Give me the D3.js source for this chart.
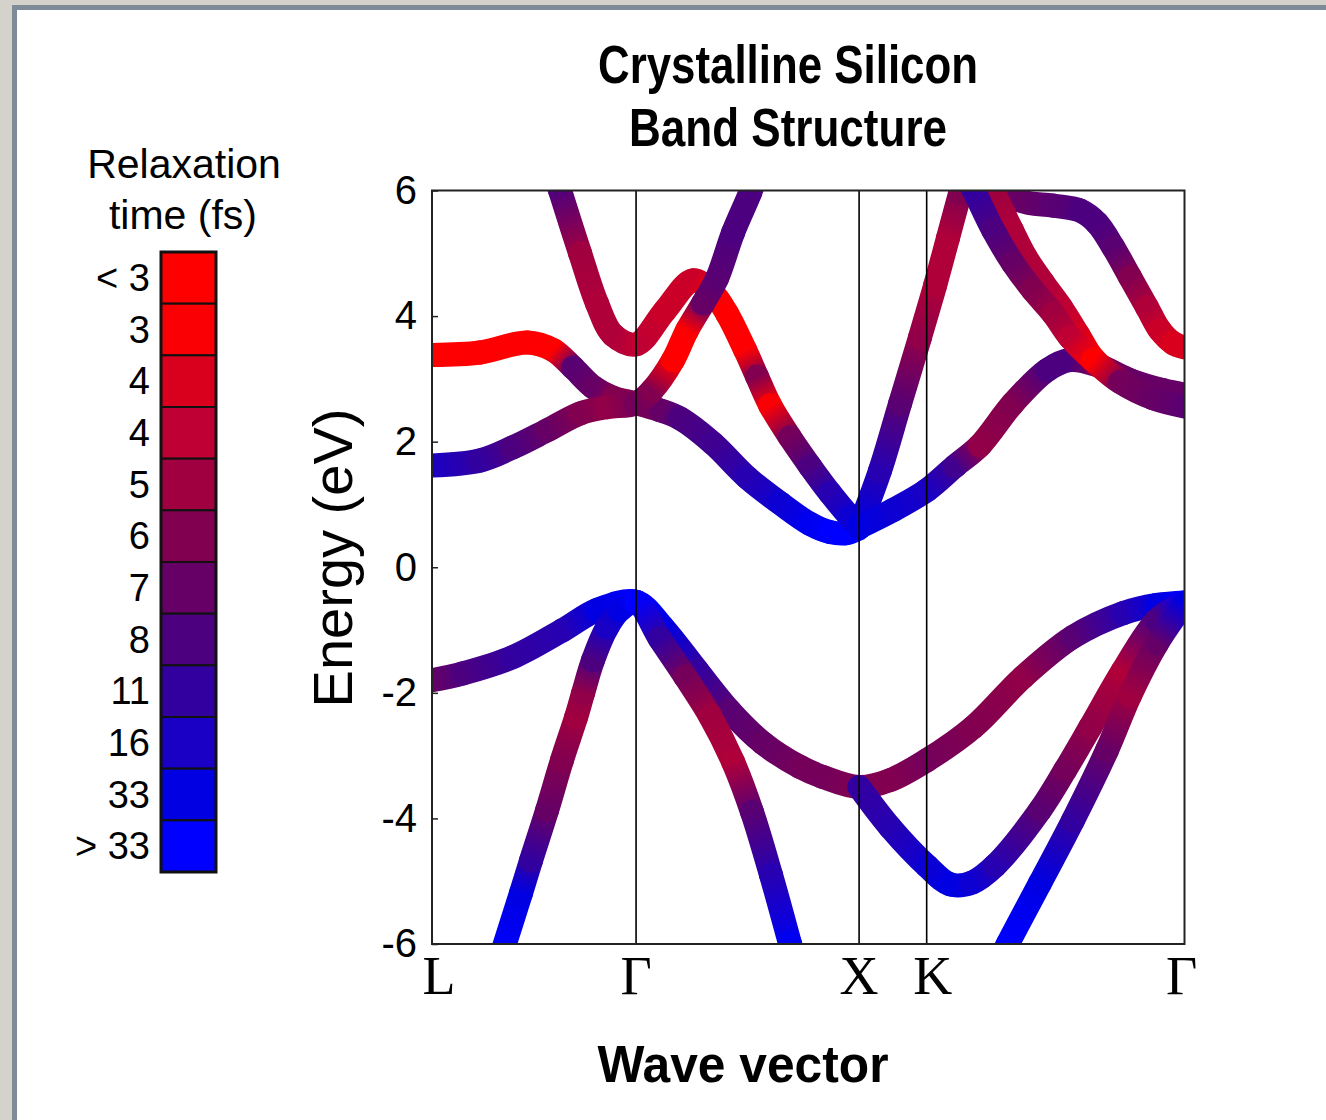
<!DOCTYPE html>
<html>
<meta charset="utf-8">
<head>
  <title>Crystalline Silicon Band Structure</title>
  <script src="https://d3js.org/d3.v7.min.js"></script>
  <style>
    body { margin: 0; background: #d5d2cc; }
    svg { display: block; }
  </style>
</head>
<body>
<div id="my_dataviz"></div>
<script>

// legend: relaxation time classes, short (red) to long (blue)
var legendLabels = ["< 3", "3", "4", "4", "5", "6", "7", "8", "11", "16", "33", "> 33"];
var legendColors = ["#ff0000", "#fa0004", "#d8001c", "#be0034", "#a0003f", "#820050",
                    "#660066", "#4c0080", "#3300a0", "#1a00c4", "#0000e2", "#0000ff"];

// high symmetry points along the path
var kLabels = ["L", "Γ", "X", "K", "Γ"];
var kTicks = [0, 0.915, 1.915, 2.218, 3.374];
var energyTicks = [-6, -4, -2, 0, 2, 4, 6];

// bands: [k, energy in eV, relaxation class (0 = "< 3" ... 11 = "> 33")]
var bandV1 = [[0,-1.80,6],[0.139,-1.69,7],[0.363,-1.43,8],[0.587,-1.00,8.5],[0.740,-0.68,10],[0.915,-0.55,11],
  [1.036,-0.96,10],[1.188,-1.64,8],[1.336,-2.29,6.5],[1.484,-2.80,6],[1.650,-3.18,5.5],[1.753,-3.34,5.5],
  [1.915,-3.50,5],[2.054,-3.39,5],[2.220,-3.07,5.5],[2.426,-2.55,5],[2.650,-1.75,4.5],[2.874,-1.11,6.5],
  [3.099,-0.73,8.5],[3.251,-0.60,10],[3.374,-0.56,11]];
var bandV2 = [[0.296,-6.34,11],[0.399,-5.19,10],[0.444,-4.67,8],[0.516,-3.87,6],[0.583,-3.07,5],[0.646,-2.39,4],
  [0.677,-2.01,4.5],[0.722,-1.48,7],[0.785,-0.96,9],[0.843,-0.68,10],[0.915,-0.55,11],[1.022,-1.14,8],
  [1.135,-1.74,5.5],[1.247,-2.37,4],[1.350,-3.10,3.5],[1.435,-3.90,6.5],[1.520,-4.90,8.5],[1.605,-5.99,10.5],
  [1.632,-6.34,11]];
var bandV3 = [[1.915,-3.50,8],[2.054,-4.14,8.5],[2.220,-4.76,9.5],[2.323,-5.05,10],[2.422,-5.02,9.5],[2.525,-4.75,8.5],
  [2.726,-3.87,6.5],[2.839,-3.23,5.5],[2.951,-2.55,4.5],[3.099,-1.64,3.5],[3.251,-0.84,7],[3.374,-0.56,11]];
var bandV4 = [[2.534,-6.34,11],[2.583,-5.99,11],[2.726,-5.03,10],[2.874,-4.03,8],[3.027,-2.91,6],[3.130,-2.04,4],
  [3.251,-1.21,6],[3.374,-0.57,10]];

var bandC1 = [[0,1.62,9],[0.215,1.70,8],[0.363,1.91,7],[0.516,2.18,6],[0.664,2.45,5],[0.785,2.55,4.5],[0.915,2.61,5.5],
  [0.987,2.82,5],[1.081,3.30,0],[1.143,3.77,0.5],[1.215,4.20,6],[1.278,4.60,6.5],[1.350,5.33,7],[1.426,5.96,7],[1.453,6.24,7]];
var bandC2 = [[0,3.38,0],[0.215,3.42,0.5],[0.426,3.58,0.5],[0.543,3.46,0],[0.632,3.18,6.5],[0.722,2.87,6],[0.812,2.70,5],
  [0.915,2.61,5],[1.022,2.50,6],[1.112,2.37,7],[1.260,1.97,7.5],[1.413,1.43,8.5],[1.561,1.02,9.5],[1.695,0.69,10.5],
  [1.785,0.56,11],[1.852,0.54,11],[1.915,0.62,11]];
var bandC3 = [[0.547,6.32,7],[0.574,6.00,6.8],[0.664,5.00,4],[0.740,4.20,3.5],[0.812,3.70,3.5],[0.915,3.55,3],
  [1.045,4.09,2.5],[1.170,4.57,2.5],[1.256,4.38,1],[1.323,4.04,0],[1.404,3.46,0.5],[1.457,3.04,5],[1.516,2.58,1],
  [1.605,2.07,5.5],[1.695,1.61,7],[1.785,1.18,8.5],[1.874,0.80,9.5],[1.915,0.64,10]];
var bandS = [[1.915,0.64,10],[2.009,1.54,8.5],[2.099,2.61,6.5],[2.188,3.66,4.5],[2.256,4.49,3.5],[2.314,5.25,3.5],
  [2.368,5.96,5],[2.390,6.24,5.5]];
var bandD = [[1.915,0.64,10],[2.067,0.91,9.5],[2.220,1.23,9],[2.345,1.61,7.5],[2.457,1.94,4.5],[2.605,2.61,5],
  [2.758,3.14,7],[2.861,3.30,7],[2.982,3.22,5],[3.130,2.98,6],[3.278,2.82,6],[3.374,2.75,6]];
var bandB = [[2.395,6.24,8],[2.435,5.96,8],[2.516,5.37,7],[2.605,4.84,6],[2.695,4.41,5],[2.785,4.04,4],[2.861,3.66,3],
  [2.964,3.30,0],[3.085,2.95,5.5],[3.233,2.69,6],[3.374,2.56,6.5]];
var bandB2 = [[2.480,6.24,4],[2.525,5.92,4],[2.600,5.37,3.5],[2.662,4.94,3.5],[2.742,4.52,3.5],[2.820,4.14,3],
  [2.900,3.69,2],[2.964,3.33,0],[3.085,2.98,5.5],[3.233,2.72,6],[3.374,2.60,6]];
var bandC = [[2.525,6.19,6],[2.637,5.84,6],[2.785,5.76,6.5],[2.906,5.68,7],[2.982,5.48,7],[3.054,5.10,6.5],
  [3.130,4.62,5],[3.206,4.14,3.5],[3.265,3.77,2.5],[3.323,3.57,2],[3.374,3.50,2]];

// drawing order matters where bands cross
var bands = [bandV1, bandV2, bandV3, bandV4, bandC2, bandC3, bandC1, bandS, bandD, bandC, bandB2, bandB];

var sans = "'Liberation Sans', Arial, Helvetica, sans-serif";
var narrow = "'Liberation Sans Narrow', 'Arial Narrow', 'Liberation Sans', Arial, sans-serif";

var svg = d3.select("#my_dataviz").append("svg")
    .attr("width", 1326)
    .attr("height", 1120);

// slide frame
svg.append("rect").attr("x", 12).attr("y", 5).attr("width", 1400).attr("height", 1200).attr("fill", "#7e8b99");
svg.append("rect").attr("x", 17).attr("y", 10).attr("width", 1400).attr("height", 1200).attr("fill", "#ffffff");

var defs = svg.append("defs");

// scales
var x = d3.scaleLinear().domain([0, 3.374]).range([432, 1184.5]);
var y = d3.scaleLinear().domain([-6, 6]).range([944, 190.5]);
var tColor = d3.scaleLinear().domain(d3.range(legendColors.length)).range(legendColors).interpolate(d3.interpolateRgb);

defs.append("clipPath").attr("id", "plot-clip")
  .append("rect")
    .attr("x", x(0)).attr("y", y(6))
    .attr("width", x(3.374) - x(0)).attr("height", y(-6) - y(6));

// split a smooth band line into one piece per data interval,
// so each piece can get its own colour gradient
function segmentsOf(pts) {
  var segs = [], cx, cy;
  var ctx = {
    moveTo: function(a, b) { cx = a; cy = b; },
    lineTo: function(a, b) { segs.push("M" + cx + "," + cy + "L" + a + "," + b); cx = a; cy = b; },
    bezierCurveTo: function(a, b, c, d, e, f) {
      segs.push("M" + cx + "," + cy + "C" + a + "," + b + "," + c + "," + d + "," + e + "," + f);
      cx = e; cy = f;
    },
    closePath: function() {}
  };
  d3.line()
    .x(function(d) { return x(d[0]); })
    .y(function(d) { return y(d[1]); })
    .curve(d3.curveCatmullRom.alpha(0.5))
    .context(ctx)(pts);
  return segs;
}

var bandGroup = svg.append("g").attr("clip-path", "url(#plot-clip)");
bands.forEach(function(band, bi) {
  segmentsOf(band).forEach(function(seg, i) {
    var a = band[i], b = band[i + 1];
    var gid = "grad-" + bi + "-" + i;
    var grad = defs.append("linearGradient")
      .attr("id", gid)
      .attr("gradientUnits", "userSpaceOnUse")
      .attr("x1", x(a[0])).attr("y1", y(a[1]))
      .attr("x2", x(b[0])).attr("y2", y(b[1]));
    grad.append("stop").attr("offset", "0%").attr("stop-color", tColor(a[2]));
    grad.append("stop").attr("offset", "100%").attr("stop-color", tColor(b[2]));
    bandGroup.append("path")
      .attr("d", seg)
      .attr("fill", "none")
      .attr("stroke", "url(#" + gid + ")")
      .attr("stroke-width", 24)
      .attr("stroke-linecap", "round");
  });
});

// vertical lines at the symmetry points
svg.append("g")
  .selectAll("line")
  .data(kTicks.slice(1, -1))
  .enter().append("line")
    .attr("x1", function(d) { return x(d); })
    .attr("x2", function(d) { return x(d); })
    .attr("y1", y(6)).attr("y2", y(-6))
    .attr("stroke", "#000").attr("stroke-width", 1.6);

// frame
svg.append("rect")
  .attr("x", x(0)).attr("y", y(6))
  .attr("width", x(3.374) - x(0)).attr("height", y(-6) - y(6))
  .attr("fill", "none").attr("stroke", "#222").attr("stroke-width", 2);

// energy axis
var yAxis = svg.append("g")
  .attr("transform", "translate(" + x(0) + ",0)")
  .call(d3.axisLeft(y).tickValues(energyTicks).tickSize(-6).tickPadding(15)
        .tickFormat(function(d) { return String(d); }));
yAxis.select(".domain").remove();
yAxis.selectAll("line").attr("stroke", "#222").attr("stroke-width", 1.5);
yAxis.selectAll("text")
  .attr("fill", "#000")
  .style("font-family", sans)
  .style("font-size", "40px");

// symmetry point labels (end labels nudged inside, K set right of its line)
var labelNudge = [7, 0, 0, 6, -3];
svg.append("g")
  .selectAll("text")
  .data(kTicks)
  .enter().append("text")
    .attr("x", function(d, i) { return x(d) + labelNudge[i]; })
    .attr("y", 994)
    .attr("text-anchor", "middle")
    .style("font-family", "'Liberation Serif', 'Times New Roman', serif")
    .style("font-size", "54px")
    .text(function(d, i) { return kLabels[i]; });

// axis titles
svg.append("text")
  .attr("transform", "translate(352,558) rotate(-90)")
  .attr("text-anchor", "middle")
  .style("font-family", sans)
  .style("font-size", "56px")
  .text("Energy (eV)");

svg.append("text")
  .attr("x", 743).attr("y", 1082)
  .attr("text-anchor", "middle")
  .attr("textLength", 291).attr("lengthAdjust", "spacingAndGlyphs")
  .style("font-family", narrow)
  .style("font-weight", "bold")
  .style("font-size", "52px")
  .text("Wave vector");

// chart title
svg.append("text")
  .attr("x", 788).attr("y", 83)
  .attr("text-anchor", "middle")
  .attr("textLength", 380).attr("lengthAdjust", "spacingAndGlyphs")
  .style("font-family", narrow)
  .style("font-weight", "bold")
  .style("font-size", "53px")
  .text("Crystalline Silicon");
svg.append("text")
  .attr("x", 788).attr("y", 146)
  .attr("text-anchor", "middle")
  .attr("textLength", 318).attr("lengthAdjust", "spacingAndGlyphs")
  .style("font-family", narrow)
  .style("font-weight", "bold")
  .style("font-size", "53px")
  .text("Band Structure");

// legend
var legendY = d3.scaleBand().domain(d3.range(legendLabels.length)).range([252, 872]);
var legend = svg.append("g");
legend.append("text")
  .attr("x", 184).attr("y", 178)
  .attr("text-anchor", "middle")
  .style("font-family", sans).style("font-size", "41px")
  .text("Relaxation");
legend.append("text")
  .attr("x", 183).attr("y", 229)
  .attr("text-anchor", "middle")
  .style("font-family", sans).style("font-size", "41px")
  .text("time (fs)");

legend.selectAll("rect.cell")
  .data(legendColors)
  .enter().append("rect")
    .attr("class", "cell")
    .attr("x", 161)
    .attr("y", function(d, i) { return legendY(i); })
    .attr("width", 55)
    .attr("height", legendY.bandwidth())
    .attr("fill", function(d) { return d; })
    .attr("stroke", "#111").attr("stroke-width", 2);
legend.append("rect")
  .attr("x", 161).attr("y", 252).attr("width", 55).attr("height", 620)
  .attr("fill", "none").attr("stroke", "#111").attr("stroke-width", 3);

legend.selectAll("text.lab")
  .data(legendLabels)
  .enter().append("text")
    .attr("class", "lab")
    .attr("x", 150)
    .attr("y", function(d, i) { return legendY(i) + legendY.bandwidth() / 2 + 13; })
    .attr("text-anchor", "end")
    .style("font-family", sans)
    .style("font-size", "38px")
    .text(function(d) { return d; });

</script>
</body>
</html>
